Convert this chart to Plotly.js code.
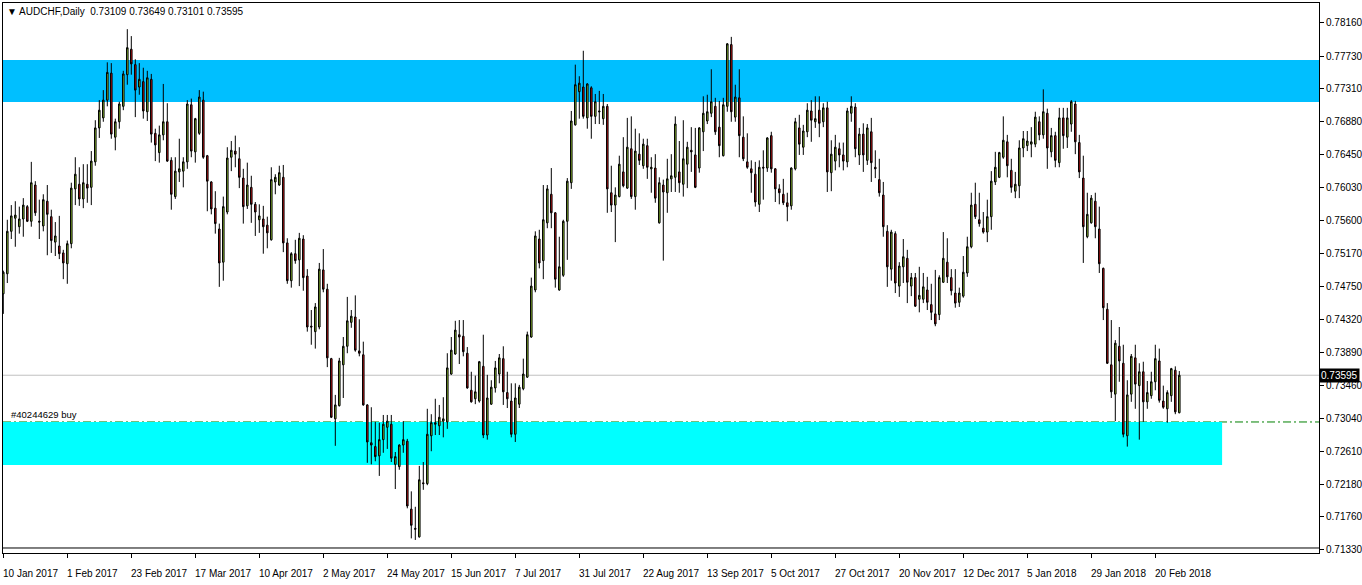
<!DOCTYPE html>
<html><head><meta charset="utf-8">
<script src="https://cdn.plot.ly/plotly-3.0.1.min.js"></script>
<style>html,body{margin:0;padding:0;background:#fff;}#chart{width:1362px;height:585px;}</style>
</head><body><div id="chart"></div>
<script>
const symbolTitle = "AUDCHF,Daily";
const startDate = "2017-01-10";
const holidays = ["2017-12-25", "2018-01-01"];

const open = [
0.7465,0.7491,0.7546,0.7563,0.7552,0.7562,0.7578,0.7559,0.7606,0.7559,
0.7553,0.7585,0.7565,0.7532,0.7527,0.7518,0.7504,0.7530,0.7601,0.7607,
0.7588,0.7607,0.7603,0.7636,0.7680,0.7693,0.7716,0.7751,0.7668,0.7688,
0.7708,0.7749,0.7782,0.7762,0.7733,0.7740,0.7701,0.7743,0.7673,0.7648,
0.7671,0.7688,0.7638,0.7591,0.7623,0.7624,0.7636,0.7710,0.7649,0.7673,
0.7716,0.7644,0.7610,0.7576,0.7549,0.7506,0.7571,0.7642,0.7650,0.7640,
0.7615,0.7579,0.7603,0.7581,0.7561,0.7562,0.7554,0.7535,0.7610,0.7606,
0.7616,0.7531,0.7482,0.7517,0.7509,0.7536,0.7488,0.7423,0.7416,0.7422,
0.7496,0.7471,0.7381,0.7303,0.7320,0.7373,0.7397,0.7428,0.7435,0.7391,
0.7386,0.7321,0.7272,0.7267,0.7255,0.7276,0.7292,0.7296,0.7244,0.7241,
0.7269,0.7274,0.7186,0.7161,0.7150,0.7220,0.7219,0.7281,0.7298,0.7294,
0.7300,0.7299,0.7361,0.7387,0.7412,0.7410,0.7388,0.7340,0.7329,0.7326,
0.7371,0.7282,0.7322,0.7343,0.7361,0.7381,0.7337,0.7326,0.7283,0.7322,
0.7342,0.7357,0.7409,0.7470,0.7536,0.7508,0.7557,0.7594,0.7570,0.7470,
0.7489,0.7559,0.7609,0.7684,0.7727,0.7733,0.7693,0.7732,0.7695,0.7702,
0.7692,0.7708,0.7596,0.7580,0.7591,0.7623,0.7602,0.7653,0.7591,0.7646,
0.7631,0.7657,0.7627,0.7628,0.7557,0.7606,0.7596,0.7614,0.7616,0.7623,
0.7607,0.7633,0.7651,0.7645,0.7628,0.7675,0.7689,0.7699,0.7708,0.7681,
0.7644,0.7708,0.7788,0.7694,0.7719,0.7668,0.7636,0.7627,0.7620,0.7581,
0.7629,0.7628,0.7670,0.7627,0.7601,0.7594,0.7583,0.7579,0.7627,0.7680,
0.7655,0.7675,0.7702,0.7688,0.7703,0.7688,0.7706,0.7622,0.7637,0.7653,
0.7645,0.7636,0.7699,0.7707,0.7645,0.7672,0.7638,0.7675,0.7629,0.7613,
0.7593,0.7546,0.7497,0.7543,0.7475,0.7500,0.7511,0.7475,0.7486,0.7458,
0.7458,0.7470,0.7451,0.7439,0.7438,0.7480,0.7506,0.7486,0.7466,0.7454,
0.7462,0.7492,0.7526,0.7581,0.7561,0.7550,0.7545,0.7565,0.7610,0.7616,
0.7642,0.7662,0.7625,0.7598,0.7605,0.7654,0.7657,0.7659,0.7659,0.7688,
0.7671,0.7699,0.7649,0.7670,0.7635,0.7693,0.7668,0.7685,0.7711,0.7661,
0.7615,0.7539,0.7557,0.7585,0.7549,0.7498,0.7445,0.7373,0.7335,0.7397,
0.7375,0.7281,0.7335,0.7382,0.7346,0.7364,0.7325,0.7333,0.7351,0.7378,
0.7326,0.7316,0.7333,0.7366,0.73109
];

const high = [
0.7495,0.7561,0.7580,0.7585,0.7578,0.7589,0.7580,0.7636,0.7611,0.7587,
0.7594,0.7606,0.7574,0.7558,0.7566,0.7522,0.7534,0.7609,0.7642,0.7629,
0.7633,0.7633,0.7650,0.7690,0.7716,0.7729,0.7765,0.7764,0.7692,0.7714,
0.7754,0.7808,0.7799,0.7769,0.7764,0.7758,0.7754,0.7750,0.7679,0.7683,
0.7737,0.7712,0.7642,0.7642,0.7666,0.7642,0.7716,0.7718,0.7693,0.7729,
0.7727,0.7645,0.7611,0.7598,0.7556,0.7591,0.7655,0.7663,0.7670,0.7655,
0.7627,0.7635,0.7618,0.7584,0.7581,0.7579,0.7565,0.7629,0.7620,0.7631,
0.7632,0.7537,0.7519,0.7535,0.7544,0.7541,0.7497,0.7444,0.7453,0.7505,
0.7523,0.7478,0.7382,0.7334,0.7382,0.7409,0.7461,0.7444,0.7463,0.7432,
0.7403,0.7322,0.7318,0.7299,0.7298,0.7308,0.7308,0.7308,0.7260,0.7270,
0.7300,0.7277,0.7209,0.7189,0.7242,0.7247,0.7316,0.7309,0.7329,0.7321,
0.7331,0.7388,0.7409,0.7430,0.7431,0.7431,0.7396,0.7364,0.7359,0.7378,
0.7412,0.7360,0.7353,0.7378,0.7387,0.7397,0.7364,0.7349,0.7349,0.7347,
0.7381,0.7416,0.7486,0.7546,0.7548,0.7606,0.7606,0.7628,0.7571,0.7539,
0.7561,0.7615,0.7702,0.7762,0.7747,0.7780,0.7738,0.7734,0.7724,0.7728,
0.7724,0.7711,0.7631,0.7603,0.7644,0.7668,0.7693,0.7695,0.7679,0.7673,
0.7666,0.7666,0.7642,0.7646,0.7616,0.7613,0.7640,0.7646,0.7695,0.7663,
0.7690,0.7662,0.7681,0.7680,0.7681,0.7721,0.7723,0.7756,0.7719,0.7715,
0.7719,0.7790,0.7798,0.7736,0.7756,0.7695,0.7673,0.7638,0.7636,0.7638,
0.7651,0.7668,0.7675,0.7628,0.7607,0.7614,0.7596,0.7629,0.7693,0.7697,
0.7684,0.7712,0.7716,0.7721,0.7721,0.7712,0.7714,0.7664,0.7671,0.7661,
0.7661,0.7706,0.7721,0.7712,0.7680,0.7686,0.7685,0.7693,0.7651,0.7640,
0.7610,0.7554,0.7548,0.7546,0.7506,0.7536,0.7522,0.7492,0.7492,0.7500,
0.7492,0.7487,0.7478,0.7496,0.7489,0.7545,0.7537,0.7497,0.7497,0.7473,
0.7514,0.7539,0.7596,0.7609,0.7596,0.7571,0.7587,0.7624,0.7649,0.7649,
0.7695,0.7671,0.7640,0.7623,0.7664,0.7676,0.7676,0.7681,0.7701,0.7695,
0.7730,0.7705,0.7680,0.7675,0.7706,0.7706,0.7706,0.7716,0.7715,0.7671,
0.7644,0.7596,0.7593,0.7596,0.7578,0.7499,0.7453,0.7431,0.7405,0.7422,
0.7399,0.7353,0.7387,0.7399,0.7375,0.7377,0.7352,0.7364,0.7399,0.7394,
0.7346,0.7340,0.7369,0.7371,0.73649
];

const low = [
0.7439,0.7479,0.7536,0.7526,0.7543,0.7539,0.7558,0.7552,0.7566,0.7536,
0.7546,0.7515,0.7518,0.7514,0.7510,0.7484,0.7478,0.7524,0.7580,0.7579,
0.7576,0.7583,0.7580,0.7631,0.7667,0.7688,0.7708,0.7666,0.7651,0.7679,
0.7703,0.7736,0.7749,0.7694,0.7723,0.7692,0.7689,0.7661,0.7637,0.7635,
0.7664,0.7636,0.7574,0.7588,0.7610,0.7603,0.7627,0.7642,0.7635,0.7671,
0.7640,0.7572,0.7568,0.7543,0.7474,0.7482,0.7568,0.7624,0.7629,0.7602,
0.7556,0.7575,0.7557,0.7540,0.7544,0.7517,0.7524,0.7534,0.7594,0.7605,
0.7519,0.7478,0.7473,0.7504,0.7475,0.7469,0.7416,0.7399,0.7394,0.7419,
0.7467,0.7370,0.7304,0.7268,0.7319,0.7330,0.7388,0.7421,0.7390,0.7384,
0.7320,0.7246,0.7244,0.7248,0.7229,0.7259,0.7264,0.7247,0.7212,0.7237,
0.7259,0.7187,0.7148,0.7146,0.7149,0.7211,0.7217,0.7261,0.7282,0.7282,
0.7279,0.7290,0.7360,0.7386,0.7374,0.7384,0.7342,0.7324,0.7322,0.7324,
0.7278,0.7276,0.7321,0.7337,0.7349,0.7321,0.7317,0.7279,0.7273,0.7317,
0.7340,0.7356,0.7408,0.7467,0.7498,0.7484,0.7550,0.7550,0.7473,0.7469,
0.7487,0.7509,0.7601,0.7683,0.7692,0.7692,0.7679,0.7666,0.7685,0.7685,
0.7684,0.7570,0.7571,0.7532,0.7590,0.7603,0.7601,0.7588,0.7574,0.7632,
0.7627,0.7614,0.7596,0.7583,0.7556,0.7508,0.7570,0.7597,0.7597,0.7596,
0.7591,0.7602,0.7623,0.7602,0.7622,0.7650,0.7685,0.7694,0.7671,0.7642,
0.7643,0.7701,0.7688,0.7688,0.7642,0.7637,0.7627,0.7596,0.7578,0.7571,
0.7587,0.7623,0.7622,0.7584,0.7581,0.7580,0.7559,0.7574,0.7625,0.7645,
0.7645,0.7668,0.7662,0.7680,0.7668,0.7681,0.7597,0.7598,0.7625,0.7629,
0.7625,0.7629,0.7688,0.7642,0.7632,0.7623,0.7632,0.7610,0.7615,0.7591,
0.7539,0.7474,0.7482,0.7466,0.7461,0.7479,0.7453,0.7462,0.7448,0.7441,
0.7453,0.7444,0.7431,0.7423,0.7431,0.7479,0.7479,0.7463,0.7447,0.7448,
0.7460,0.7487,0.7524,0.7562,0.7552,0.7543,0.7532,0.7548,0.7606,0.7615,
0.7640,0.7616,0.7596,0.7589,0.7589,0.7642,0.7650,0.7642,0.7655,0.7664,
0.7666,0.7627,0.7642,0.7629,0.7629,0.7653,0.7654,0.7675,0.7646,0.7615,
0.7505,0.7537,0.7556,0.7537,0.7492,0.7431,0.7374,0.7330,0.7300,0.7351,
0.7279,0.7267,0.7325,0.7316,0.7276,0.7299,0.7316,0.7329,0.7340,0.7324,
0.7316,0.7298,0.7325,0.7309,0.73101
];

const close = [
0.7493,0.7546,0.7566,0.7567,0.7562,0.7580,0.7559,0.7609,0.7570,0.7558,
0.7587,0.7568,0.7534,0.7540,0.7517,0.7505,0.7530,0.7602,0.7620,0.7588,
0.7609,0.7602,0.7637,0.7680,0.7703,0.7716,0.7752,0.7672,0.7688,0.7711,
0.7750,0.7784,0.7763,0.7729,0.7743,0.7702,0.7745,0.7672,0.7658,0.7671,
0.7688,0.7637,0.7594,0.7624,0.7627,0.7636,0.7711,0.7650,0.7692,0.7720,
0.7642,0.7611,0.7575,0.7556,0.7505,0.7578,0.7641,0.7651,0.7646,0.7616,
0.7578,0.7606,0.7581,0.7571,0.7566,0.7552,0.7544,0.7613,0.7616,0.7622,
0.7531,0.7482,0.7517,0.7508,0.7537,0.7486,0.7422,0.7422,0.7448,0.7497,
0.7471,0.7382,0.7305,0.7321,0.7378,0.7397,0.7430,0.7436,0.7392,0.7388,
0.7321,0.7273,0.7269,0.7254,0.7276,0.7296,0.7300,0.7252,0.7254,0.7269,
0.7276,0.7190,0.7165,0.7160,0.7224,0.7219,0.7283,0.7298,0.7296,0.7305,
0.7303,0.7369,0.7392,0.7418,0.7409,0.7390,0.7343,0.7325,0.7338,0.7377,
0.7282,0.7330,0.7344,0.7369,0.7382,0.7338,0.7329,0.7283,0.7330,0.7344,
0.7361,0.7412,0.7475,0.7540,0.7505,0.7561,0.7601,0.7570,0.7484,0.7500,
0.7559,0.7611,0.7689,0.7736,0.7738,0.7695,0.7737,0.7695,0.7714,0.7701,
0.7708,0.7601,0.7580,0.7593,0.7633,0.7605,0.7655,0.7591,0.7650,0.7638,
0.7659,0.7629,0.7629,0.7589,0.7609,0.7597,0.7614,0.7618,0.7685,0.7609,
0.7640,0.7655,0.7649,0.7603,0.7680,0.7699,0.7701,0.7714,0.7675,0.7657,
0.7710,0.7789,0.7701,0.7720,0.7670,0.7640,0.7629,0.7622,0.7584,0.7629,
0.7628,0.7667,0.7627,0.7601,0.7596,0.7583,0.7578,0.7628,0.7688,0.7659,
0.7676,0.7703,0.7690,0.7692,0.7686,0.7706,0.7623,0.7646,0.7655,0.7645,
0.7637,0.7702,0.7708,0.7653,0.7672,0.7645,0.7680,0.7635,0.7627,0.7596,
0.7552,0.7500,0.7545,0.7479,0.7501,0.7513,0.7480,0.7486,0.7449,0.7463,
0.7474,0.7454,0.7441,0.7426,0.7486,0.7511,0.7487,0.7469,0.7453,0.7466,
0.7493,0.7526,0.7580,0.7565,0.7556,0.7545,0.7565,0.7611,0.7629,0.7648,
0.7664,0.7631,0.7603,0.7607,0.7654,0.7666,0.7663,0.7662,0.7694,0.7671,
0.7701,0.7654,0.7670,0.7638,0.7693,0.7670,0.7693,0.7714,0.7662,0.7623,
0.7552,0.7568,0.7589,0.7552,0.7504,0.7447,0.7375,0.7338,0.7401,0.7378,
0.7283,0.7334,0.7384,0.7348,0.7364,0.7325,0.7337,0.7351,0.7381,0.7327,
0.7318,0.7337,0.7368,0.7312,0.73595
];

const yTickValues = [0.78160,0.77730,0.77310,0.76880,0.76450,0.76030,0.75600,0.75170,0.74750,0.74320,0.73890,0.73460,0.73040,0.72610,0.72180,0.71760,0.71330];
const xTickDates = ["2017-01-10","2017-02-01","2017-02-23","2017-03-17","2017-04-10","2017-05-02","2017-05-24","2017-06-15","2017-07-07","2017-07-31","2017-08-22","2017-09-13","2017-10-05","2017-10-27","2017-11-20","2017-12-12","2018-01-05","2018-01-29","2018-02-20"];
const monthNames = ["Jan","Feb","Mar","Apr","May","Jun","Jul","Aug","Sep","Oct","Nov","Dec"];

const resistanceZone = {low: 0.77136, high: 0.77680};
const supportZone = {low: 0.72432, high: 0.72989, endBar: 304.7};
const orderPrice = 0.72989;
const orderLabel = "#40244629 buy";
const lastPrice = 0.73595;

// trading-day categories (weekdays, no Christmas / New Year bar)
const dates = [];
{
  const d = new Date(startDate + "T00:00:00Z");
  while (dates.length < close.length) {
    const s = d.toISOString().slice(0, 10);
    const wd = d.getUTCDay();
    if (wd !== 0 && wd !== 6 && holidays.indexOf(s) < 0) dates.push(s);
    d.setUTCDate(d.getUTCDate() + 1);
  }
}
function fmtDate(s) {
  const p = s.split("-");
  return parseInt(p[2], 10) + " " + monthNames[parseInt(p[1], 10) - 1] + " " + p[0];
}

const FONT = "Liberation Sans, Arial, sans-serif";
const last = close.length - 1;
const headerText = "\u25BC " + symbolTitle + "  " +
  [open[last], high[last], low[last], close[last]].map(v => v.toFixed(5)).join(" ");

const trace = {
  type: "candlestick",
  x: dates, open: open, high: high, low: low, close: close,
  increasing: {line: {color: "#000000", width: 1}, fillcolor: "#9ACD32"},
  decreasing: {line: {color: "#000000", width: 1}, fillcolor: "#D01515"},
  whiskerwidth: 0,
  hoverinfo: "skip"
};

const annotations = [
  {xref: "paper", yref: "paper", x: 0, y: 1, xanchor: "left", yanchor: "top", xshift: 2, yshift: -1,
   text: headerText, showarrow: false, font: {family: FONT, size: 10, color: "#000"}},
  {xref: "paper", yref: "y", x: 0, y: orderPrice, xanchor: "left", yanchor: "bottom", xshift: 6, yshift: 0,
   text: orderLabel, showarrow: false, font: {family: FONT, size: 9.5, color: "#000"}},
  {xref: "paper", yref: "y", x: 1, y: lastPrice, xanchor: "left", yanchor: "middle", xshift: 0,
   text: lastPrice.toFixed(5), showarrow: false, bgcolor: "#000", borderpad: 1,
   font: {family: FONT, size: 10, color: "#fff"}}
];
xTickDates.forEach(function (d) {
  annotations.push({xref: "x", yref: "paper", x: d, y: 0, xanchor: "left", yanchor: "middle",
    xshift: -2, yshift: -20, text: fmtDate(d), showarrow: false,
    font: {family: FONT, size: 10, color: "#000"}});
});

const shapes = [
  {type: "rect", layer: "below", xref: "paper", yref: "y", x0: 0, x1: 1,
   y0: resistanceZone.low, y1: resistanceZone.high, fillcolor: "#00BFFF", line: {width: 0}},
  {type: "rect", layer: "below", xref: "x", yref: "y", x0: -1, x1: supportZone.endBar,
   y0: supportZone.low, y1: supportZone.high, fillcolor: "#00FFFF", line: {width: 0}},
  {type: "line", layer: "below", xref: "paper", yref: "y", x0: 0, x1: 1, y0: lastPrice, y1: lastPrice,
   line: {color: "#C0C0C0", width: 1}},
  {type: "line", layer: "below", xref: "paper", yref: "y", x0: 0, x1: 1, y0: orderPrice, y1: orderPrice,
   line: {color: "#008000", width: 1, dash: "8px,3px,2px,3px"}},
  {type: "line", layer: "above", xref: "paper", yref: "paper", x0: 0, x1: 1, y0: 0.0091, y1: 0.0091,
   line: {color: "#000", width: 1}}
];

const layout = {
  width: 1362, height: 585,
  margin: {l: 3, r: 43, t: 3, b: 32, pad: 0},
  paper_bgcolor: "#ffffff", plot_bgcolor: "#ffffff",
  showlegend: false, hovermode: false, dragmode: false,
  boxgap: 0.45,
  font: {family: FONT, size: 10, color: "#000"},
  xaxis: {
    type: "category", range: [-0.075, 328.925], rangeslider: {visible: false},
    showgrid: false, zeroline: false, showline: true, mirror: true, linecolor: "#000", linewidth: 1,
    tickmode: "array", tickvals: xTickDates, ticktext: xTickDates.map(() => ""),
    ticks: "outside", ticklen: 4, tickcolor: "#000", fixedrange: true
  },
  yaxis: {
    side: "right", range: [0.71291, 0.78419],
    showgrid: false, zeroline: false, showline: true, mirror: true, linecolor: "#000", linewidth: 1,
    tickmode: "array", tickvals: yTickValues, ticktext: yTickValues.map(v => v.toFixed(5)),
    ticks: "outside", ticklen: 4, tickcolor: "#000",
    tickfont: {family: FONT, size: 10, color: "#000"}, fixedrange: true
  },
  shapes: shapes,
  annotations: annotations
};

Plotly.newPlot("chart", [trace], layout, {staticPlot: true, displayModeBar: false});
</script>
</body></html>
